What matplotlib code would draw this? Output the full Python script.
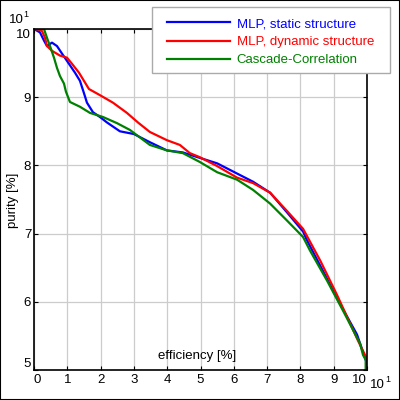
import matplotlib
matplotlib.use('Agg')
import matplotlib.pyplot as plt
from matplotlib.patches import Rectangle

plt.rcParams['font.family'] = ['Liberation Sans', 'DejaVu Sans']

# efficiency / purity curves (units of 10 %)
eff_static = [0, 0.18, 0.3, 0.39, 0.54, 0.69, 0.84, 1.05, 1.23, 1.38, 1.5, 1.59, 1.77, 1.98,
              2.19, 2.58, 3.0, 3.48, 3.99, 4.47, 4.98, 5.5, 6.1, 6.58, 7.09, 7.6, 8.08, 8.2,
              8.68, 9.19, 9.7, 10.0]
pur_static = [10, 9.95, 9.83, 9.75, 9.80, 9.75, 9.64, 9.49, 9.36, 9.24, 9.06, 8.92, 8.78, 8.71,
              8.63, 8.50, 8.46, 8.34, 8.22, 8.19, 8.11, 8.03, 7.88, 7.76, 7.60, 7.31, 7.03, 6.90,
              6.45, 5.97, 5.52, 5.09]

eff_dynamic = [0, 0.15, 0.24, 0.33, 0.39, 0.54, 0.78, 0.99, 1.14, 1.35, 1.5, 1.65, 1.98, 2.37,
               2.79, 3.12, 3.48, 3.99, 4.38, 4.68, 4.98, 5.5, 6.1, 6.58, 7.09, 7.6, 8.08, 8.6,
               9.1, 9.73, 10.0]
pur_dynamic = [10, 9.99, 9.97, 9.87, 9.75, 9.68, 9.61, 9.58, 9.49, 9.36, 9.24, 9.12, 9.03, 8.92,
               8.77, 8.63, 8.49, 8.37, 8.30, 8.18, 8.12, 7.99, 7.82, 7.74, 7.60, 7.33, 7.07, 6.60,
               6.10, 5.43, 5.16]

eff_cascade = [0, 0.2, 0.3, 0.39, 0.48, 0.6, 0.69, 0.78, 0.9, 0.96, 1.08, 1.38, 1.68, 2.07,
               2.49, 2.88, 3.48, 3.99, 4.47, 4.98, 5.5, 6.1, 6.58, 7.09, 7.6, 8.08, 8.29, 8.8,
               9.28, 9.79, 9.88, 9.96, 9.96]
pur_cascade = [10, 10, 10, 9.87, 9.75, 9.58, 9.43, 9.31, 9.2, 9.08, 8.93, 8.86, 8.77, 8.71,
               8.62, 8.52, 8.30, 8.22, 8.18, 8.05, 7.90, 7.79, 7.64, 7.44, 7.19, 6.95, 6.75, 6.31,
               5.87, 5.39, 5.22, 5.15, 5.0]

labels = ['MLP, static structure', 'MLP, dynamic structure', 'Cascade-Correlation']
colors = ['#0000ff', '#ff0000', '#008000']

fig = plt.figure(figsize=(4, 4), dpi=100)
fig.patch.set_facecolor('white')
ax = fig.add_axes([0.085, 0.075, 0.8325, 0.8525])

ax.plot(eff_static, pur_static, color=colors[0], lw=1.6, label=labels[0])
ax.plot(eff_dynamic, pur_dynamic, color=colors[1], lw=1.6, label=labels[1])
ax.plot(eff_cascade, pur_cascade, color=colors[2], lw=1.6, label=labels[2])

ax.set_xlim(0, 10)
ax.set_ylim(5, 10)
ax.set_xticks(range(0, 11))
ax.set_yticks(range(5, 11))
ax.grid(True, color='#cccccc', lw=0.9)
ax.set_axisbelow(True)
ax.tick_params(direction='in', top=True, right=True, length=3, labelsize=9.5, pad=3)
ax.tick_params(axis='y', pad=2)
for s in ax.spines.values():
    s.set_linewidth(1.2)

xt = ax.get_xticklabels()
xt[0].set_horizontalalignment('left')
xt[-1].set_horizontalalignment('right')
yt = ax.get_yticklabels()
yt[0].set_verticalalignment('bottom')
yt[-1].set_verticalalignment('top')

ax.text(0.49, 0.022, 'efficiency [%]', transform=ax.transAxes, ha='center', va='bottom',
        fontsize=9.5)
fig.text(13 / 400, 0.5, 'purity [%]', rotation=90, ha='center', va='center', fontsize=9.5)

# axis multipliers
fig.text(9 / 400, 1 - 23 / 400, '10', fontsize=9.5, ha='left', va='baseline')
fig.text(23 / 400, 1 - 17 / 400, '1', fontsize=6.5, ha='left', va='baseline')
fig.text(370 / 400, 1 - 388 / 400, '10', fontsize=9.5, ha='left', va='baseline')
fig.text(385 / 400, 1 - 382 / 400, '1', fontsize=6.5, ha='left', va='baseline')

# legend box
fig.patches.append(Rectangle((152 / 400, 1 - 73 / 400), 238 / 400, 66 / 400,
                             transform=fig.transFigure, facecolor='white',
                             edgecolor='#aaaaaa', lw=1, zorder=5))
leg = fig.legend(loc='upper left', bbox_to_anchor=(155 / 400, 1 - 6 / 400), frameon=False,
                 fontsize=9.5, handlelength=4.8, handletextpad=0.5, labelspacing=0.45,
                 labelcolor='linecolor')
leg.set_zorder(6)

# figure border
fig.patches.append(Rectangle((0, 0), 1, 1, transform=fig.transFigure, fill=False,
                             edgecolor='black', lw=1.5))

fig.savefig('out.png', dpi=100)
